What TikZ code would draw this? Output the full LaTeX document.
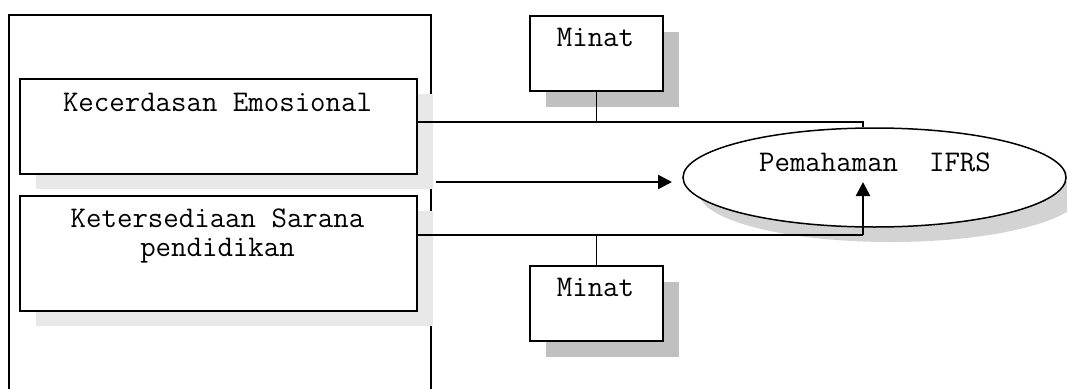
\documentclass[tikz,border=0pt]{standalone}
\usepackage{fontspec}
\usetikzlibrary{arrows.meta,shadows,shapes.geometric}
\definecolor{shlight}{HTML}{E8E8E8}
\definecolor{shdark}{HTML}{C0C0C0}
\definecolor{shell}{HTML}{D3D3D3}
\tikzset{
  txt/.style={font=\fontsize{30}{28.5}\selectfont\ttfamily, inner sep=0pt, anchor=base},
  bigbox/.style={draw, line width=1.5pt, fill=white, anchor=north west, inner sep=0pt,
     drop shadow={shadow xshift=16pt, shadow yshift=-15pt, fill=shlight, opacity=1}},
  minbox/.style={draw, line width=1.5pt, fill=white, anchor=north west, inner sep=0pt,
     minimum width=133pt, minimum height=75pt,
     drop shadow={shadow xshift=16pt, shadow yshift=-16pt, fill=shdark, opacity=1}},
  conn/.style={line width=1.5pt},
  arr/.style={line width=2.6pt, -{Triangle[length=14pt,width=14pt]}},
}
\begin{document}
\begin{tikzpicture}[x=1pt,y=-1pt]
\useasboundingbox (0,0) rectangle (1067,388);
% outer frame (open at bottom)
\draw[line width=1.5pt] (9,395) -- (9,15) -- (431,15) -- (431,395);
% boxes
\node[bigbox, minimum width=397pt, minimum height=95pt] (kec) at (19,78) {};
\node[txt] (kect) at (217.5,111) {Kecerdasan Emosional};
\node[bigbox, minimum width=397pt, minimum height=115pt] (ket) at (19,195) {};
\node[txt, align=center] (kett) at (217.5,256) {Ketersediaan Sarana\\pendidikan};
\node[minbox] (min1) at (529,15) {};
\node[txt] (min1t) at (595.5,46) {Minat};
\node[minbox] (min2) at (529,265) {};
\node[txt] (min2t) at (595.5,296) {Minat};
% ellipse
\node[ellipse, draw, line width=1.5pt, fill=white, minimum width=383pt, minimum height=99pt, inner sep=0pt,
  drop shadow={shadow xshift=16pt, shadow yshift=-15pt, fill=shell, opacity=1}] (ifrs) at (874.5,177.5) {};
\node[txt] (ifrst) at (875,171) {Pemahaman\ \ IFRS};
% connectors
\coordinate (j1) at (863,122);
\coordinate (j2) at (863,235);
\coordinate (j3) at (863,182);
\coordinate (a0) at (436,182);
\coordinate (a1) at (672,182);
\draw[conn] (kec.east |- j1) -- (j1) -- (j1 |- ifrs.north);
\draw[conn] (min1.south) -- (min1.south |- j1);
\draw[conn] (min2.north) -- (min2.north |- j2);
\draw[arr] (a0) -- (a1);
\draw[conn] (ket.east |- j2) -- (j2);
\draw[arr] (j2) -- (j3);
\end{tikzpicture}
\end{document}
